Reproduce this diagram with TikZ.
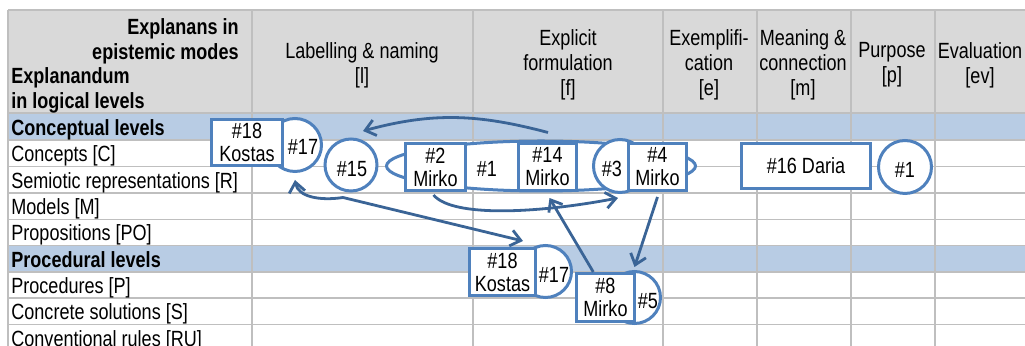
\documentclass[tikz,border=0pt]{standalone}
\usepackage{fontspec}
\setmainfont{Liberation Sans}[FakeStretch=0.82]
\usetikzlibrary{positioning,shapes.geometric,arrows.meta,calc}

\definecolor{headgrey}{HTML}{D9D9D9}
\definecolor{levelblue}{HTML}{B8CCE4}
\definecolor{gridgrey}{HTML}{BFBFBF}
\definecolor{shapeblue}{HTML}{4F81BD}
\definecolor{arrowblue}{HTML}{3A6496}

\begin{document}
\begin{tikzpicture}[
    x=0.5pt, y=-0.5pt,
    % Table styles
    grid_line/.style={draw=gridgrey, line width=0.6pt},
    head_text/.style={font=\fontsize{11}{12.5}\selectfont, align=center, inner sep=0pt},
    head_bold/.style={font=\fontsize{11}{12.5}\selectfont\bfseries, inner sep=0pt},
    row_label/.style={font=\fontsize{11}{12.5}\selectfont, anchor=base west, inner sep=0pt},
    level_label/.style={row_label, font=\fontsize{11}{12.5}\selectfont\bfseries},
    % Shapes laid over the table
    name_box/.style={rectangle, draw=shapeblue, fill=white, line width=1.5pt, align=center,
                     inner sep=0pt, font=\fontsize{11}{11.5}\selectfont},
    mode_circle/.style={circle, draw=shapeblue, fill=white, line width=1.5pt, inner sep=0pt,
                        minimum size=#1},
    mode_circle/.default=26.5pt,
    group_oval/.style={ellipse, draw=shapeblue, fill=white, line width=1.5pt, inner sep=0pt,
                       minimum width=154.5pt, minimum height=25pt},
    circle_text/.style={font=\fontsize{11}{11.5}\selectfont, inner sep=0pt},
    link_arrow/.style={draw=arrowblue, line width=1.4pt, -{Straight Barb[length=5pt,width=8pt]}}
]

\useasboundingbox (0,0) rectangle (1025,346);
\clip (0,0) rectangle (1025,346);

% Header and level rows
\fill[headgrey] (8,10) rectangle (1040,113);
\fill[levelblue] (8,113) rectangle (1040,140);
\fill[levelblue] (8,245.5) rectangle (1040,272);

% Grid
\draw[grid_line] (8,10) -- (1040,10) (8,113) -- (1040,113) (8,140) -- (1040,140)
    (8,166.5) -- (1040,166.5) (8,193) -- (1040,193) (8,219.5) -- (1040,219.5)
    (8,245.5) -- (1040,245.5) (8,272) -- (1040,272) (8,298) -- (1040,298)
    (8,324.5) -- (1040,324.5);
\draw[grid_line] (8,10) -- (8,360) (252,10) -- (252,360) (473,10) -- (473,360)
    (663,10) -- (663,360) (757,10) -- (757,360) (851,10) -- (851,360) (935,10) -- (935,360);

% Header texts
\node[head_bold, align=right, anchor=east] (explanans) at (239,41) {Explanans in\\epistemic modes};
\node[head_bold, align=left, anchor=west] (explanandum) at (11,90.5) {Explanandum\\in logical levels};
\node[head_text] (mode_l) at (362,65) {Labelling \& naming\\{[l]}};
\node[head_text] (mode_f) at (568,65) {Explicit\\formulation\\{[f]}};
\node[head_text] (mode_e) at (709,65) {Exemplifi-\\cation\\{[e]}};
\node[head_text] (mode_m) at (803,65) {Meaning \&\\connection\\{[m]}};
\node[head_text] (mode_p) at (892,65) {Purpose\\{[p]}};
\node[head_text] (mode_ev) at (980,65) {Evaluation\\{[ev]}};

% Row labels
\node[level_label] (conceptual) at (11,135.5) {Conceptual levels};
\node[row_label] (concepts) at (11,162) {Concepts [C]};
\node[row_label] (semiotic) at (11,188.5) {Semiotic representations [R]};
\node[row_label] (models) at (11,215) {Models [M]};
\node[row_label] (propositions) at (11,241) {Propositions [PO]};
\node[level_label] (procedural) at (11,267.5) {Procedural levels};
\node[row_label] (procedures) at (11,293.5) {Procedures [P]};
\node[row_label] (solutions) at (11,320) {Concrete solutions [S]};
\node[row_label] (rules) at (11,346.5) {Conventional rules [RU]};

% Top left: #18 Kostas with #17
\node[mode_circle] (c17a) at (295,145) {};
\node[name_box, minimum width=35.5pt, minimum height=23pt] (b18a) at (247,142.5) {\#18\\Kostas};
\node[circle_text] (t17a) at (303,147) {\#17};

% #15
\node[mode_circle=26pt] (c15) at (351,165) {};
\node[circle_text] (t15) at (352,169.5) {\#15};

% Mirko group inside the oval
\node[group_oval] (oval) at (541,166) {};
\node[mode_circle] (c3) at (620,166) {};
\node[name_box, minimum width=30pt, minimum height=23.5pt] (b2) at (435.5,167) {\#2\\Mirko};
\node[name_box, minimum width=29pt, minimum height=23.5pt] (b14) at (547.5,167) {\#14\\Mirko};
\node[name_box, minimum width=29pt, minimum height=23.5pt] (b4) at (657.5,167) {\#4\\Mirko};
\node[circle_text] (t1a) at (487,168.5) {\#1};
\node[circle_text] (t3) at (612,168.5) {\#3};

% Daria and #1
\node[name_box, minimum width=64.5pt, minimum height=22.5pt] (b16) at (806,166) {\#16 Daria};
\node[mode_circle] (c1) at (905,167) {};
\node[circle_text] (t1b) at (905,170) {\#1};

% Procedural level: #18 Kostas with #17, #8 Mirko with #5
\node[mode_circle=26pt] (c17b) at (545.5,271.5) {};
\node[name_box, minimum width=33pt, minimum height=23.5pt] (b18b) at (502.5,272) {\#18\\Kostas};
\node[circle_text] (t17b) at (554,275) {\#17};
\node[mode_circle=26pt] (c5) at (634.5,297.5) {};
\node[name_box, minimum width=29pt, minimum height=24pt] (b8) at (605.5,297.5) {\#8\\Mirko};
\node[circle_text] (t5) at (648,301.5) {\#5};

% Arrows
\coordinate (a1end) at (363,131);
\coordinate (c15foot) at ([xshift=-4pt,yshift=-2.5pt]c15.south);
\draw[link_arrow] ([xshift=3.5pt,yshift=3.5pt]oval.north) .. controls (478,114) and (433,112) .. (a1end);
\draw[link_arrow] (c15foot) .. controls (320,201) and (298,197) .. ([yshift=-3.5pt]c17a.south);
\draw[link_arrow] (c15foot) -- ([xshift=-7pt,yshift=3pt]b18b.north east);
\draw[link_arrow] ([xshift=-1pt,yshift=-1.5pt]b2.south) .. controls +(19.5,23) and +(-78,15) .. ([xshift=-1pt,yshift=-2pt]c3.south);
\draw[link_arrow] ($(b8.north west)!.3!(b8.north east)$) -- ([xshift=1pt,yshift=-3pt]b14.south);
\draw[link_arrow] ([yshift=-2.5pt]b4.south) -- ([yshift=1.5pt]c5.north);

\end{tikzpicture}
\end{document}
